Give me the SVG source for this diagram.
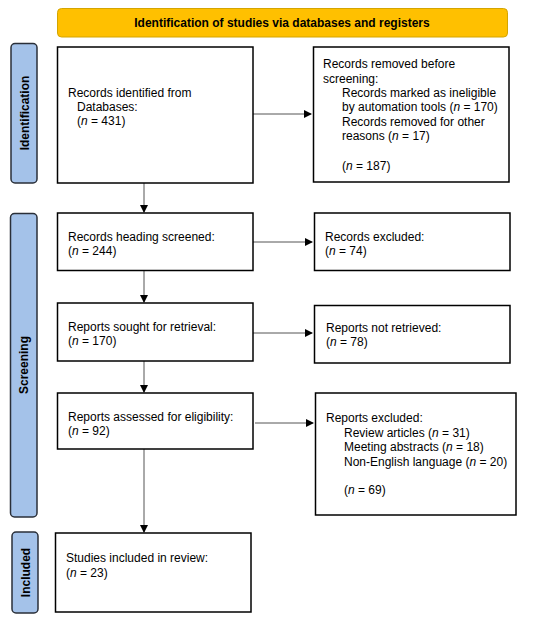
<svg xmlns="http://www.w3.org/2000/svg" width="550" height="622" viewBox="0 0 550 622">
<style>
text{font-family:"Liberation Sans",Arial,sans-serif;font-size:12px;fill:#000}
.box{fill:#fff;stroke:#000;stroke-width:1.5}
.side{fill:#A4C2E9;stroke:#2a2f38;stroke-width:1.5}
.lab{font-weight:bold;text-anchor:middle}
.con{stroke:#555;stroke-width:1;fill:none;marker-end:url(#ah)}
</style>
<defs>
<marker id="ah" markerWidth="8" markerHeight="8" refX="7" refY="4" orient="auto" markerUnits="userSpaceOnUse">
<path d="M0,0 L8,4 L0,8 Z" fill="#000"/>
</marker>
</defs>
<rect width="550" height="622" fill="#fff"/>
<g id="banner">
<rect x="57.5" y="8.5" width="450" height="28.5" rx="4" fill="#FFC000" stroke="#D4A500" stroke-width="1"/>
<text class="lab" x="282" y="27">Identification of studies via databases and registers</text>
</g>
<g id="side-identification">
<rect class="side" x="11" y="43.5" width="26" height="139.5" rx="4"/>
<text class="lab" transform="translate(28.5,113) rotate(-90)">Identification</text>
</g>
<g id="side-screening">
<rect class="side" x="10.5" y="213.5" width="26.5" height="303.5" rx="4"/>
<text class="lab" transform="translate(28,365) rotate(-90)">Screening</text>
</g>
<g id="side-included">
<rect class="side" x="12" y="532" width="26" height="81" rx="4"/>
<text class="lab" transform="translate(29.5,572.5) rotate(-90)">Included</text>
</g>
<g id="connectors">
<line class="con" x1="253" y1="114" x2="311" y2="114"/>
<line class="con" x1="144" y1="183" x2="144" y2="212"/>
<line class="con" x1="253" y1="242" x2="312" y2="242"/>
<line class="con" x1="144" y1="271" x2="144" y2="302"/>
<line class="con" x1="253" y1="333" x2="312" y2="333"/>
<line class="con" x1="144" y1="361" x2="144" y2="392"/>
<line class="con" x1="255" y1="423" x2="313" y2="423"/>
<line class="con" x1="144" y1="449" x2="144" y2="532"/>
</g>
<g id="n1">
<rect class="box" x="57.5" y="47" width="195.5" height="136"/>
<text x="68" y="97">Records identified from</text>
<text x="77" y="111">Databases:</text>
<text x="77" y="125">(<tspan font-style="italic">n</tspan> = 431)</text>
</g>
<g id="n2">
<rect class="box" x="313.5" y="47" width="195.5" height="135"/>
<text x="323" y="68">Records removed before</text>
<text x="323" y="83">screening:</text>
<text x="342" y="97">Records marked as ineligible</text>
<text x="342" y="111">by automation tools (<tspan font-style="italic">n</tspan> = 170)</text>
<text x="342" y="126">Records removed for other</text>
<text x="342" y="140">reasons (<tspan font-style="italic">n</tspan> = 17)</text>
<text x="342" y="170">(<tspan font-style="italic">n</tspan> = 187)</text>
</g>
<g id="n3">
<rect class="box" x="57.5" y="213" width="195.5" height="57.5"/>
<text x="68" y="241">Records heading screened:</text>
<text x="68" y="255">(<tspan font-style="italic">n</tspan> = 244)</text>
</g>
<g id="n4">
<rect class="box" x="314.5" y="213" width="195.5" height="57.5"/>
<text x="325" y="241">Records excluded:</text>
<text x="325" y="255">(<tspan font-style="italic">n</tspan> = 74)</text>
</g>
<g id="n5">
<rect class="box" x="57.5" y="303" width="195.5" height="58"/>
<text x="68" y="331">Reports sought for retrieval:</text>
<text x="68" y="345">(<tspan font-style="italic">n</tspan> = 170)</text>
</g>
<g id="n6">
<rect class="box" x="314.5" y="305.5" width="195.5" height="57.5"/>
<text x="326" y="332">Reports not retrieved:</text>
<text x="326" y="346">(<tspan font-style="italic">n</tspan> = 78)</text>
</g>
<g id="n7">
<rect class="box" x="57.5" y="393" width="195.5" height="56"/>
<text x="68" y="421">Reports assessed for eligibility:</text>
<text x="68" y="435">(<tspan font-style="italic">n</tspan> = 92)</text>
</g>
<g id="n8">
<rect class="box" x="315.5" y="393" width="200.5" height="122"/>
<text x="326" y="422">Reports excluded:</text>
<text x="344" y="437">Review articles (<tspan font-style="italic">n</tspan> = 31)</text>
<text x="344" y="451">Meeting abstracts (<tspan font-style="italic">n</tspan> = 18)</text>
<text x="344" y="466">Non-English language (<tspan font-style="italic">n</tspan> = 20)</text>
<text x="344" y="494">(<tspan font-style="italic">n</tspan> = 69)</text>
</g>
<g id="n9">
<rect class="box" x="55.5" y="533" width="195.5" height="79"/>
<text x="66" y="562">Studies included in review:</text>
<text x="66" y="577">(<tspan font-style="italic">n</tspan> = 23)</text>
</g>
</svg>
